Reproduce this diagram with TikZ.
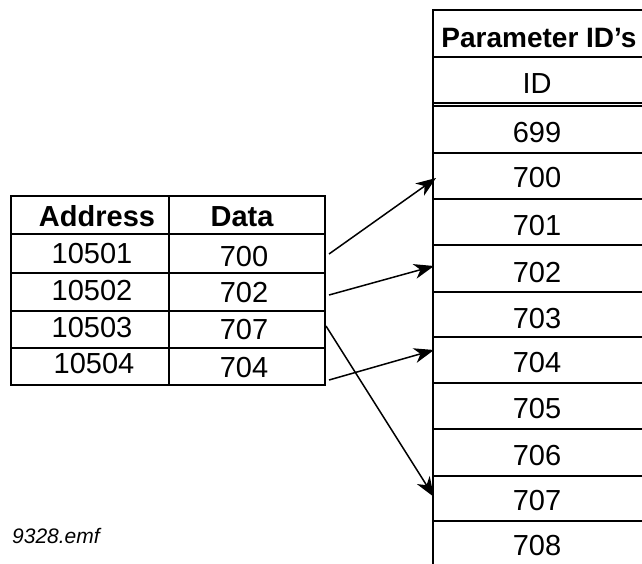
\documentclass[tikz,border=0pt]{standalone}
\usepackage{fontspec}
\setmainfont{Liberation Sans}
\usetikzlibrary{arrows.meta}
\begin{document}
\begin{tikzpicture}[x=1pt,y=-1pt,
  grid/.style={line width=1.6pt, line cap=rect},
  txt/.style={anchor=base, inner sep=0pt, font=\fontsize{29}{31}\selectfont},
  dtxt/.style={anchor=base, inner sep=0pt, font=\fontsize{29}{31}\selectfont},
  hdr/.style={txt, font=\fontsize{29}{31}\selectfont\bfseries},
  link/.style={line width=1.5pt, -{Stealth[length=20pt,width=15pt,inset=6pt]}}]
\useasboundingbox (0,0) rectangle (642,563);
% right table
\draw[grid] (433,10) -- (433,563);
\foreach \yy in {10,57,103,106,153,199,245,292,337,383,429,476,521}
  \draw[grid] (433,\yy) -- (642,\yy);
\node[hdr, font=\fontsize{28}{30}\selectfont\bfseries] (ph) at (539,47) {Parameter ID’s};
\node[txt] (pid) at (537,93) {ID};
\node[txt] (p699) at (537,142) {699};
\node[txt] (p700) at (537,187) {700};
\node[txt] (p701) at (537,235) {701};
\node[txt] (p702) at (537,282) {702};
\node[txt] (p703) at (537,328) {703};
\node[txt] (p704) at (537,372) {704};
\node[txt] (p705) at (537,418) {705};
\node[txt] (p706) at (537,465) {706};
\node[txt] (p707) at (537,510) {707};
\node[txt] (p708) at (537,555) {708};
% left table
\draw[grid] (11,196) rectangle (325,385);
\draw[grid] (169,196) -- (169,385);
\foreach \yy in {234,273,311,348}
  \draw[grid] (11,\yy) -- (325,\yy);
\node[hdr] (ha) at (97,226) {Address};
\node[hdr] (hd) at (242,226) {Data};
\node[txt] (a1) at (92,263) {10501};
\node[dtxt] (d1) at (244,266) {700};
\node[txt] (a2) at (92,300) {10502};
\node[dtxt] (d2) at (244,302) {702};
\node[txt] (a3) at (92,337) {10503};
\node[dtxt] (d3) at (244,339) {707};
\node[txt] (a4) at (94,373) {10504};
\node[dtxt] (d4) at (244,377) {704};
% connectors
\coordinate (s1) at (329,254);
\coordinate (s2) at (329,295);
\coordinate (s3) at (326,326);
\coordinate (s4) at (329,380);
\coordinate (t1) at (436,178);
\coordinate (t2) at (434,266);
\coordinate (t3) at (434,497);
\coordinate (t4) at (434,350);
\draw[link] (s1) -- (t1);
\draw[link] (s2) -- (t2);
\draw[link] (s3) -- (t3);
\draw[link] (s4) -- (t4);
\node[anchor=base west, inner sep=0pt, font=\fontsize{21}{23}\selectfont\itshape] (fn) at (12,543) {9328.emf};
\end{tikzpicture}
\end{document}
